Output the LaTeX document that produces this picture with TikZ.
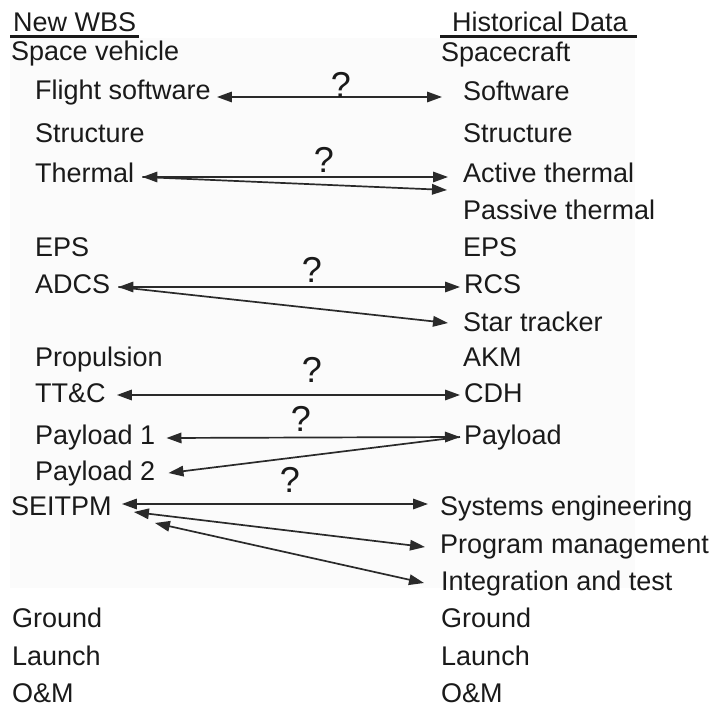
\documentclass[tikz,border=0pt]{standalone}
\usepackage{fontspec}
\setmainfont{Liberation Sans}
\usetikzlibrary{calc,arrows.meta}

\newcommand\itemfont{\fontsize{27}{31}\selectfont}
\newcommand\askfont{\fontsize{36}{40}\selectfont}
\definecolor{ink}{HTML}{1A1A1A}
\definecolor{wire}{HTML}{2A2A2A}
\definecolor{panel}{HTML}{FBFBFB}

\tikzset{
  lbl/.style={anchor=base west, inner sep=0pt, font=\itemfont, text=ink},
  ask/.style={anchor=base, inner sep=0pt, font=\askfont, text=ink},
  tip/.tip={Triangle[length=15pt,width=10.5pt]},
  both/.style={line width=1.7pt, draw=wire, tip-tip},
  toright/.style={line width=1.7pt, draw=wire, -tip},
  rule/.style={line width=3pt, draw=ink}
}

\begin{document}
\begin{tikzpicture}[x=1pt,y=-1pt]
\useasboundingbox (0,0) rectangle (710,708);
\fill[panel] (10,38) rectangle (635,588);

% column headers
\node[lbl] (hdrL) at (13,32) {New WBS};
\node[lbl] (hdrR) at (452,32) {Historical Data};
\draw[rule] ($(hdrL.base west)+(-3,5)$) -- ($(hdrL.base east)+(3,5)$);
\draw[rule] ($(hdrR.base west)+(-12,5)$) -- ($(hdrR.base east)+(9,5)$);

% new WBS
\node[lbl] (sv)  at (11,61)  {Space vehicle};
\node[lbl] (fs)  at (35,100) {Flight software};
\node[lbl] (stL) at (35,143) {Structure};
\node[lbl] (th)  at (35,183) {Thermal};
\node[lbl] (epL) at (35,257) {EPS};
\node[lbl] (ad)  at (35,294) {ADCS};
\node[lbl] (pr)  at (35,367) {Propulsion};
\node[lbl] (tt)  at (35,403) {TT\&C};
\node[lbl] (p1)  at (35,445) {Payload 1};
\node[lbl] (p2)  at (35,481) {Payload 2};
\node[lbl] (se)  at (11,516) {SEITPM};
\node[lbl] (grL) at (12,627) {Ground};
\node[lbl] (laL) at (12,665) {Launch};
\node[lbl] (omL) at (12,702) {O\&M};

% historical data
\node[lbl] (sc)  at (441,62)  {Spacecraft};
\node[lbl] (sw)  at (463,101) {Software};
\node[lbl] (stR) at (463,143) {Structure};
\node[lbl] (at)  at (463,183) {Active thermal};
\node[lbl] (pt)  at (463,220) {Passive thermal};
\node[lbl] (epR) at (463,257) {EPS};
\node[lbl] (rc)  at (464,294) {RCS};
\node[lbl] (str) at (463,332) {Star tracker};
\node[lbl] (ak)  at (463,367) {AKM};
\node[lbl] (cd)  at (464,403) {CDH};
\node[lbl] (pl)  at (464,445) {Payload};
\node[lbl] (sy)  at (440,515) {Systems engineering};
\node[lbl] (pm)  at (440,553) {Program management};
\node[lbl] (it)  at (441,590) {Integration and test};
\node[lbl] (grR) at (441,627) {Ground};
\node[lbl] (laR) at (441,665) {Launch};
\node[lbl] (omR) at (441,702) {O\&M};

% mapping connectors
\draw[both] ($(fs.base east)+(6,-3)$) -- ($(sw.base west)+(-21,-4)$);

\coordinate (thTip) at ($(th.base east)+(8,-6)$);
\draw[both] (thTip) -- ($(at.base west)+(-15,-6)$);
\draw[toright] (thTip) -- ($(pt.base west)+(-16,-30)$);

\coordinate (adTip) at ($(ad.base east)+(8,-7)$);
\draw[both] (adTip) -- ($(rc.base west)+(-4,-7)$);
\draw[toright] (adTip) -- ($(str.base west)+(-15,-9)$);

\draw[both] ($(tt.base east)+(11,-8)$) -- ($(cd.base west)+(-4,-8)$);

\coordinate (plTip) at ($(pl.base west)+(-4,-8)$);
\draw[both] ($(p1.base east)+(11,-7)$) -- (plTip);
\draw[toright] (plTip) -- ($(p2.base east)+(13,-8)$);

\draw[both] ($(se.base east)+(10,-12)$) -- ($(sy.base west)+(-12,-11)$);
\draw[both] ($(se.base east)+(22,-4)$) -- ($(pm.base west)+(-15,-6)$);
\draw[both] ($(se.base east)+(43,7)$) -- ($(it.base west)+(-17,-7)$);

% open questions
\node[ask] (q1) at (341,98)  {?};
\node[ask] (q2) at (324,173) {?};
\node[ask] (q3) at (312,283) {?};
\node[ask] (q4) at (312,383) {?};
\node[ask] (q5) at (301,432) {?};
\node[ask] (q6) at (290,493) {?};
\end{tikzpicture}
\end{document}
